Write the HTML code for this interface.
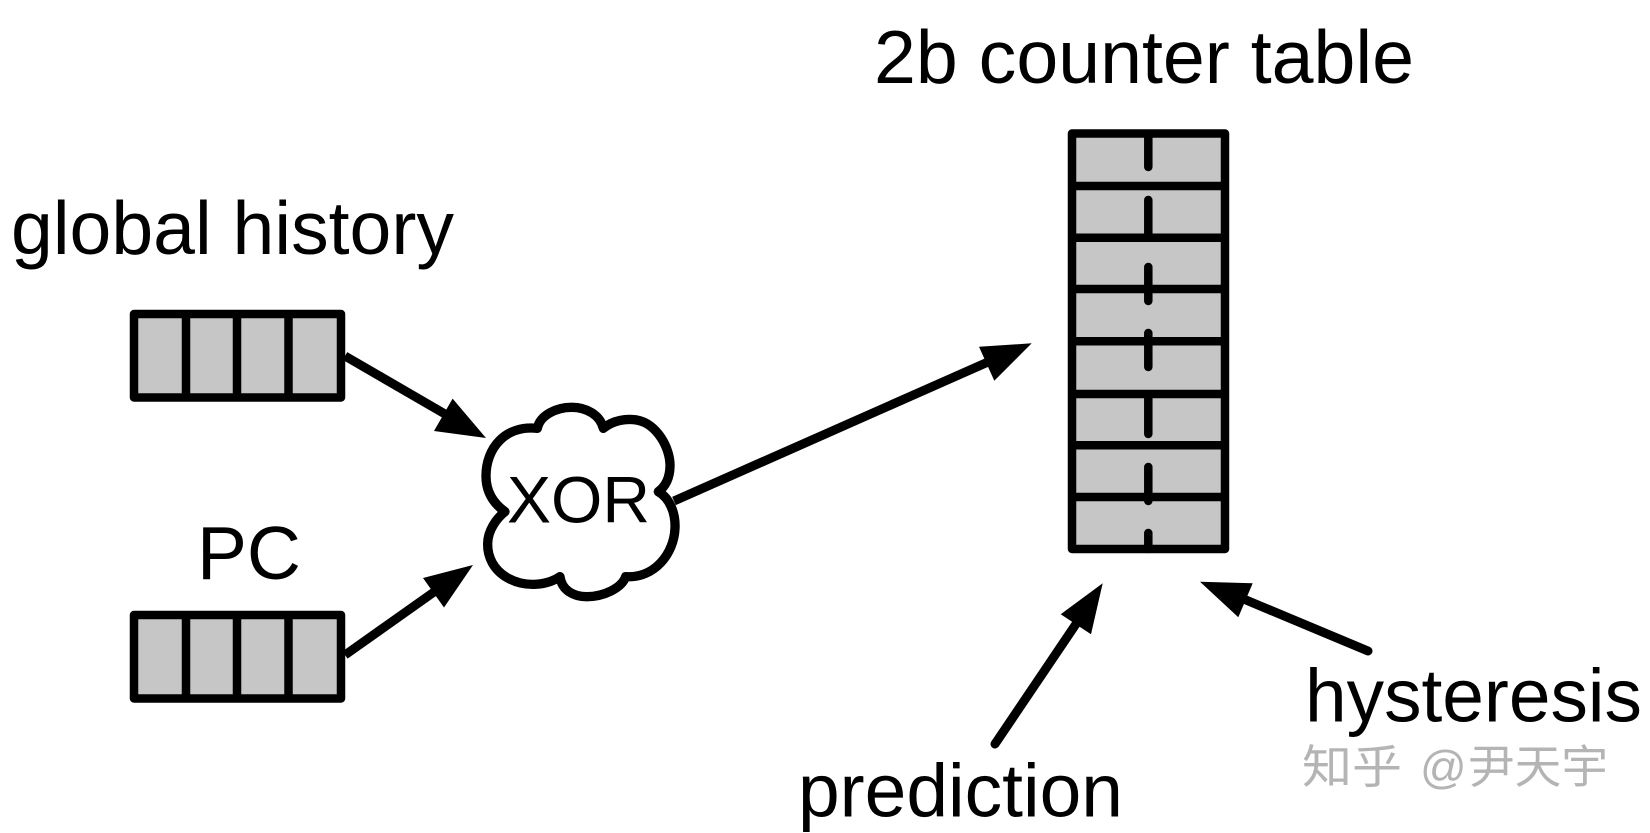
<!DOCTYPE html>
<html><head><meta charset="utf-8"><style>
html,body{margin:0;padding:0;background:#fff;width:1650px;height:833px;overflow:hidden}
svg{display:block}
text{font-family:"Liberation Sans",Arial,sans-serif;fill:#000}
.wm{font-family:"Liberation Sans","Noto Sans CJK SC",sans-serif;font-size:46px}
</style></head><body>
<svg width="1650" height="833" viewBox="0 0 1650 833" xmlns="http://www.w3.org/2000/svg">
<g stroke="#000" stroke-width="8.500" stroke-linejoin="round" fill="#c6c6c6">
<rect x="134" y="314" width="207" height="83.5"/>
<path d="M186 314V397.5M237 314V397.5M288.500 314V397.5" fill="none"/>
<rect x="134" y="615" width="207" height="83.500"/>
<path d="M186 615V698.500M237 615V698.500M288.500 615V698.500" fill="none"/>
<rect x="1072" y="133.500" width="153" height="415.500"/>
<path d="M1072 186H1225M1072 237.700H1225M1072 289H1225M1072 341.300H1225M1072 394H1225M1072 445.300H1225M1072 497H1225" fill="none"/>
<path stroke-linecap="round" fill="none" d="M1148.300 134V167M1148.300 200V236M1148.300 267V301M1148.300 333V367M1148.300 396V434M1148.300 467V501M1148.300 533V549"/>
</g>
<g stroke="#000" stroke-width="9" fill="none">
<path d="M345 356L445 414"/>
<path d="M345 655L434 592"/>
<path d="M674 501L988 362"/>
<path d="M995 744L1076 624" stroke-linecap="round"/>
<path d="M1368 651L1246 600" stroke-linecap="round"/>
</g>
<g fill="#000">
<polygon points="486,438 452.600,398.600 434,431"/>
<polygon points="473,565 423,578 444,607.500"/>
<polygon points="1031.700,343.300 979,346.700 994.300,380.700"/>
<polygon points="1102.700,583.300 1060.700,614.300 1091,634.300"/>
<polygon points="1200,581.700 1252.700,583.300 1238.300,617.300"/>
</g>
<g transform="translate(450 370) scale(.33333)">
<path fill="#fff" stroke="#000" stroke-width="28" stroke-linejoin="round" stroke-linecap="round" d="M165 425C130 400 108 365 108 318C108 235 165 165 262 175C270 135 320 112 365 112C410 112 450 135 460 175C490 150 530 145 560 150C620 160 662 235 660 290C659 325 645 350 625 365C660 385 677 430 675 475C672 550 615 625 527 620C515 655 460 680 410 680C370 680 335 660 330 620C285 650 220 650 175 625C130 600 112 560 113 520C114 480 140 445 165 425Z"/>
</g>
<text x="11" y="254" font-size="75" textLength="443" lengthAdjust="spacingAndGlyphs">global history</text>
<text x="874" y="83" font-size="75" textLength="540" lengthAdjust="spacingAndGlyphs">2b counter table</text>
<text x="197" y="579" font-size="75" textLength="104" lengthAdjust="spacingAndGlyphs">PC</text>
<text x="507" y="522.700" font-size="66" textLength="143" lengthAdjust="spacingAndGlyphs">XOR</text>
<text x="1305" y="721.700" font-size="75" textLength="337" lengthAdjust="spacingAndGlyphs">hysteresis</text>
<text x="798" y="816.700" font-size="75" textLength="325" lengthAdjust="spacingAndGlyphs">prediction</text>
<g class="wm">
<text class="wm" x="1302" y="783" style="fill:#b4b4b4" textLength="100" lengthAdjust="spacingAndGlyphs">知乎</text>
<text class="wm" x="1420" y="783" style="fill:#b4b4b4">@</text>
<text class="wm" x="1468" y="783" style="fill:#b4b4b4" textLength="140" lengthAdjust="spacingAndGlyphs">尹天宇</text>
</g>
</svg>
</body></html>
